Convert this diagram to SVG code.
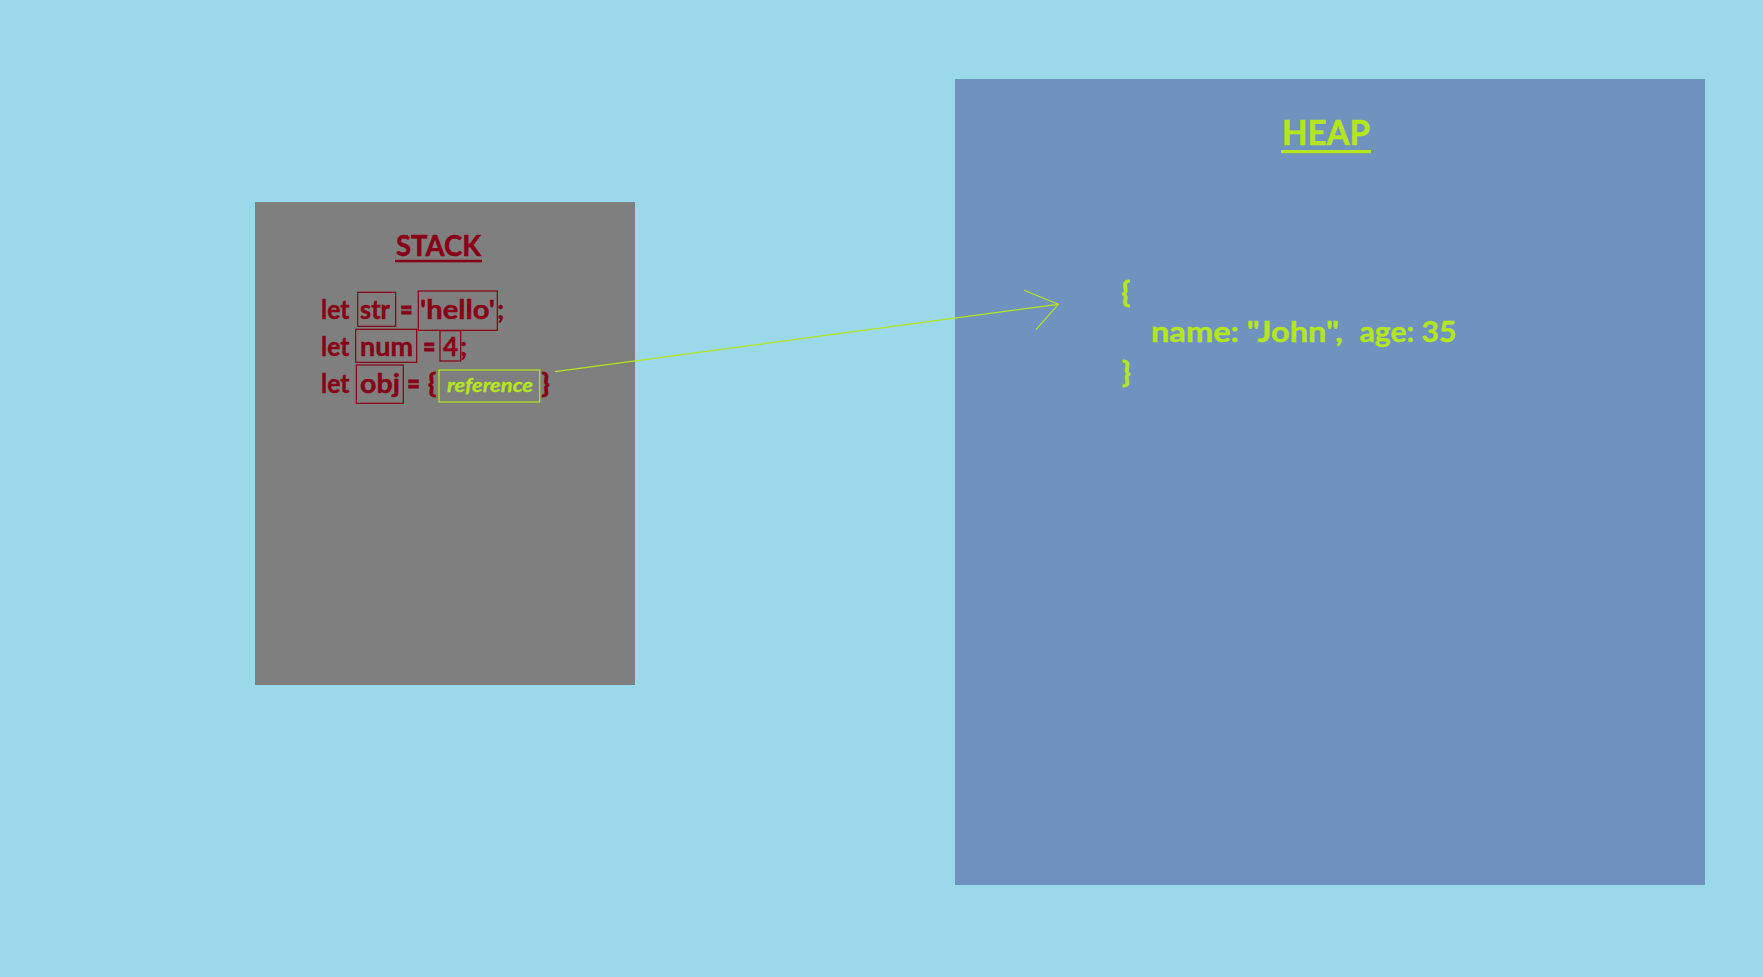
<svg xmlns="http://www.w3.org/2000/svg" width="1763" height="977" viewBox="0 0 1763 977">
<style>
.code{font-family:Lato,"Open Sans","Liberation Sans",sans-serif;font-weight:bold;font-size:27px;fill:#880015;stroke:#880015;stroke-width:0.4}
.eq{font-size:31px;stroke-width:0.8}
.title{font-family:Lato,"Open Sans","Liberation Sans",sans-serif;font-weight:bold;stroke-width:0.5}
.heapt{font-family:Lato,"Open Sans","Liberation Sans",sans-serif;font-weight:bold;font-size:28px;fill:#B5E61D;stroke:#B5E61D;stroke-width:0.4}
.brace{stroke-width:0.8}
.rbox{fill:none;stroke:#880015;stroke-width:1.2}
.lbox{fill:none;stroke:#B5E61D;stroke-width:1.2}
.conn{fill:none;stroke:#B5E61D;stroke-width:1.2}
</style>
<rect x="0" y="0" width="1763" height="977" fill="#99D9EA"/>
<g id="stack">
<rect x="255" y="202" width="380" height="483" fill="#7F7F7F"/>
<text class="title" x="396" y="255.7" font-size="29" fill="#880015" stroke="#880015" textLength="85" lengthAdjust="spacingAndGlyphs">STACK</text>
<rect x="395" y="259.8" width="87" height="2.5" fill="#880015"/>
<g id="line-str">
<text class="code" x="321" y="319" textLength="28.5" lengthAdjust="spacingAndGlyphs">let</text>
<rect class="rbox" x="357.7" y="292.3" width="38" height="34"/>
<text class="code" x="360" y="319" textLength="30" lengthAdjust="spacingAndGlyphs">str</text>
<text class="code eq" x="400" y="320" textLength="12.7" lengthAdjust="spacingAndGlyphs">=</text>
<rect class="rbox" x="418.3" y="291" width="79" height="39.3"/>
<text class="code" x="420" y="319" textLength="75" lengthAdjust="spacingAndGlyphs">'hello'</text>
<text class="code" x="497" y="319">;</text>
</g>
<g id="line-num">
<text class="code" x="321" y="356" textLength="28.5" lengthAdjust="spacingAndGlyphs">let</text>
<rect class="rbox" x="355.7" y="329.3" width="61" height="33"/>
<text class="code" x="360" y="356" textLength="53" lengthAdjust="spacingAndGlyphs">num</text>
<text class="code eq" x="423" y="357" textLength="12.5" lengthAdjust="spacingAndGlyphs">=</text>
<rect class="rbox" x="440" y="330.7" width="20.7" height="30.3"/>
<text class="code" x="443" y="356" textLength="15" lengthAdjust="spacingAndGlyphs">4</text>
<text class="code" x="460" y="356">;</text>
</g>
<g id="line-obj">
<text class="code" x="321" y="392.5" textLength="28.5" lengthAdjust="spacingAndGlyphs">let</text>
<rect class="rbox" x="356.3" y="365" width="47" height="38.3"/>
<text class="code" x="360" y="392.5" textLength="40" lengthAdjust="spacingAndGlyphs">obj</text>
<text class="code eq" x="407" y="393.5" textLength="13" lengthAdjust="spacingAndGlyphs">=</text>
<text class="code brace" x="428" y="393" font-size="29">{</text>
<rect class="lbox" x="439" y="370" width="100.7" height="32"/>
<text x="447" y="392.3" font-family="Lato,'Open Sans','Liberation Sans',sans-serif" font-weight="bold" font-style="italic" font-size="19" fill="#B5E61D" stroke="#B5E61D" stroke-width="0.3" textLength="86" lengthAdjust="spacingAndGlyphs">reference</text>
<text class="code brace" x="541.5" y="393" font-size="29">}</text>
</g>
</g>
<g id="heap">
<rect x="955" y="79" width="750" height="806" fill="#7092BE"/>
<text class="title" x="1282" y="145" font-size="35" fill="#B5E61D" stroke="#B5E61D" textLength="88" lengthAdjust="spacingAndGlyphs">HEAP</text>
<rect x="1281" y="150" width="90" height="3.2" fill="#B5E61D"/>
<text class="heapt brace" x="1121.5" y="302" font-size="30">{</text>
<text class="heapt" x="1151" y="341.7" textLength="192" lengthAdjust="spacingAndGlyphs">name: "John",</text>
<text class="heapt" x="1359.5" y="341.7" textLength="97" lengthAdjust="spacingAndGlyphs">age: 35</text>
<text class="heapt brace" x="1122" y="382" font-size="30">}</text>
</g>
<g id="connectors">
<line class="conn" x1="555" y1="371.7" x2="1058.3" y2="304.3"/>
<polyline class="conn" points="1024,290.3 1058.3,304.3 1036,329.7"/>
</g>
</svg>
